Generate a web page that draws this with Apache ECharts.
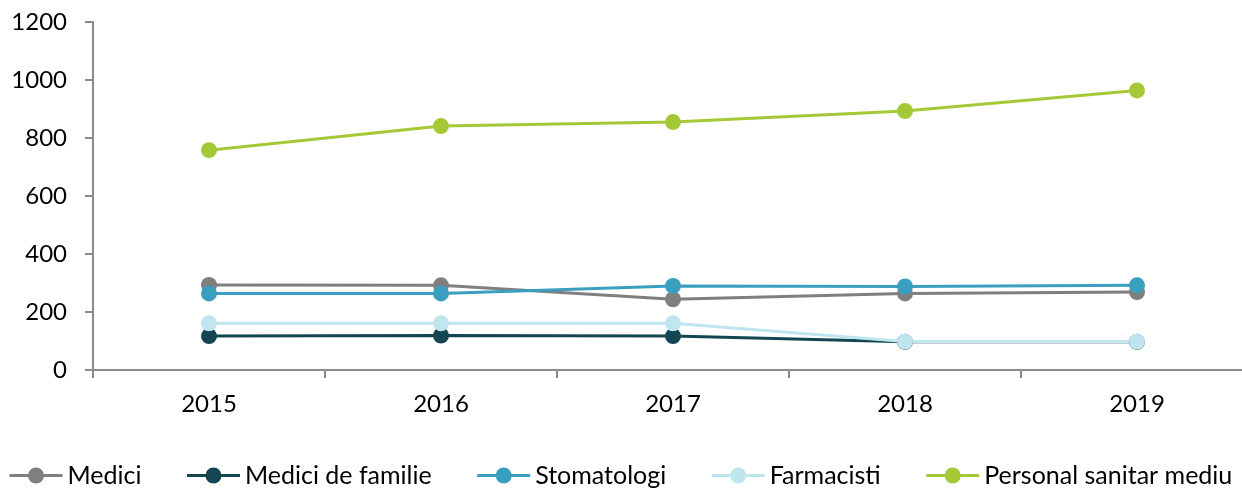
<!DOCTYPE html>
<html>
<head>
<meta charset="utf-8">
<script src="https://cdn.jsdelivr.net/npm/echarts@6/dist/echarts.min.js"></script>
<style>
  html, body { margin: 0; padding: 0; background: #fff; overflow: hidden; width: 1242px; height: 488px; }
  #chart { width: 1270px; height: 488px; }
</style>
</head>
<body>
<div id="chart"></div>
<script>
// Years on the category axis
const years = ['2015', '2016', '2017', '2018', '2019'];

// Series values per year
const medici = [293, 292, 244, 264, 269];
const mediciFamilie = [117, 119, 117, 97, 97];
const stomatologi = [264, 264, 290, 288, 292];
const farmacisti = [161, 161, 161, 98, 98];
const personalSanitar = [758, 841, 855, 893, 964];

// Value axis range
const yMin = 0;
const yMax = 1200;
const yStep = 200;

const FONT = 'Lato';

function lineSeries(name, data, color) {
  return {
    name: name,
    type: 'line',
    data: data,
    symbol: 'circle',
    symbolSize: 16,
    lineStyle: { color: color, width: 3 },
    itemStyle: { color: color },
    emphasis: { disabled: true }
  };
}

const chart = echarts.init(document.getElementById('chart'), null, { renderer: 'canvas' });
chart.setOption({
  animation: false,
  backgroundColor: '#ffffff',
  textStyle: { fontFamily: FONT },
  // the last category extends past the right edge of the visible page
  grid: { left: 93, top: 22, width: 1160, bottom: 118, containLabel: false },
  xAxis: {
    type: 'category',
    data: years,
    boundaryGap: true,
    axisLine: { lineStyle: { color: '#8a8a8a', width: 2 } },
    axisTick: { show: true, length: 8, lineStyle: { color: '#8a8a8a', width: 2 } },
    axisLabel: { color: '#000', fontSize: 24, fontFamily: FONT, margin: 22 }
  },
  yAxis: {
    type: 'value',
    min: yMin,
    max: yMax,
    interval: yStep,
    axisLine: { show: true, lineStyle: { color: '#8a8a8a', width: 2 } },
    axisTick: { show: true, length: 8, lineStyle: { color: '#8a8a8a', width: 2 } },
    splitLine: { show: false },
    axisLabel: {
      color: '#000', fontSize: 24, fontFamily: FONT, margin: 26,
      formatter: function (v) { return String(v); }
    }
  },
  legend: {
    left: 8,
    top: 463,
    padding: 0,
    itemWidth: 53,
    itemHeight: 20,
    itemGap: 44,
    lineStyle: { width: 3 },
    textStyle: { color: '#000', fontSize: 25, fontFamily: FONT },
    data: ['Medici', 'Medici de familie', 'Stomatologi', 'Farmacisti', 'Personal sanitar mediu']
  },
  series: [
    lineSeries('Medici', medici, '#7f7f7f'),
    lineSeries('Medici de familie', mediciFamilie, '#134652'),
    lineSeries('Stomatologi', stomatologi, '#3a9fbf'),
    lineSeries('Farmacisti', farmacisti, '#bfe6ee'),
    lineSeries('Personal sanitar mediu', personalSanitar, '#a5c936')
  ]
});
</script>
</body>
</html>
